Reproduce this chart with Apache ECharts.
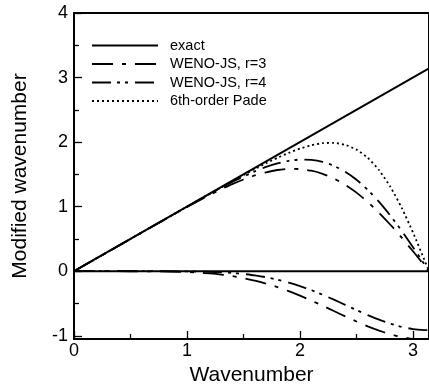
<!DOCTYPE html>
<html>
<head>
<meta charset="utf-8">
<script src="https://cdn.jsdelivr.net/npm/echarts@6/dist/echarts.min.js"></script>
<style>
  html, body { margin: 0; padding: 0; background: #fff; }
  #chart { width: 429px; height: 391px; }
</style>
</head>
<body>
<div id="chart"></div>
<script>
// Modified wavenumber of the linear WENO-JS schemes and the 6th-order compact Pade scheme
const wavenumber = [0, 0.25, 0.5, 0.75, 1.0, 1.1, 1.2, 1.3, 1.4, 1.5, 1.6, 1.7, 1.8, 1.9, 2.0,
  2.1, 2.2, 2.3, 2.4, 2.5, 2.6, 2.7, 2.8, 2.9, 3.0, 3.1, 3.1416];

// real parts (dispersion)
const wenoR3Real = [0, 0.25, 0.5, 0.749, 0.994, 1.089, 1.181, 1.268, 1.349, 1.421, 1.484, 1.533, 1.568,
  1.585, 1.582, 1.557, 1.509, 1.436, 1.339, 1.217, 1.072, 0.905, 0.720, 0.520, 0.309, 0.091, 0];
const wenoR4Real = [0, 0.25, 0.5, 0.75, 0.999, 1.097, 1.195, 1.289, 1.381, 1.467, 1.546, 1.615, 1.671,
  1.710, 1.729, 1.725, 1.694, 1.633, 1.541, 1.417, 1.260, 1.074, 0.861, 0.625, 0.373, 0.110, 0];
const padeReal = [0, 0.25, 0.5, 0.75, 1.000, 1.099, 1.198, 1.296, 1.394, 1.489, 1.583, 1.672, 1.756,
  1.833, 1.899, 1.951, 1.983, 1.988, 1.958, 1.884, 1.756, 1.565, 1.307, 0.982, 0.600, 0.180, 0];

// imaginary parts (dissipation)
const wenoR3Imag = [0, 0, -0.0002, -0.003, -0.013, -0.022, -0.035, -0.052, -0.076, -0.107, -0.145,
  -0.192, -0.246, -0.309, -0.379, -0.454, -0.534, -0.617, -0.699, -0.779, -0.854, -0.920, -0.977,
  -1.021, -1.051, -1.065, -1.067];
const wenoR4Imag = [0, 0, 0, 0, -0.003, -0.005, -0.009, -0.016, -0.027, -0.043, -0.064, -0.093,
  -0.130, -0.175, -0.230, -0.293, -0.364, -0.441, -0.521, -0.601, -0.679, -0.751, -0.813, -0.862,
  -0.896, -0.913, -0.914];

// exact relation: real part equals the wavenumber, imaginary part is zero
const exactX = [0, 3.1416];
const exactReal = [0, 3.1416];
const exactImag = [0, 0];

const xMajor = [0, 1, 2, 3];
const xMinor = [0.5, 1.5, 2.5];
const yMajor = [-1, 0, 1, 2, 3, 4];
const yMinor = [-0.5, 0.5, 1.5, 2.5, 3.5];

const FONT = '"Liberation Sans", Arial, Helvetica, sans-serif';
const pairs = (xs, ys) => xs.map((x, i) => [x, ys[i]]);

const X_MIN = 0, X_MAX = 3.1416, Y_MIN = -1.05, Y_MAX = 4;

function lineSeries(name, xs, ys, width, type) {
  return {
    name: name,
    type: 'line',
    data: pairs(xs, ys),
    symbol: 'none',
    smooth: 0.2,
    clip: true,
    lineStyle: { color: '#000', width: width, type: type, cap: 'butt' },
    itemStyle: { color: '#000' },
    emphasis: { disabled: true }
  };
}

const dashR3 = [21, 9, 4, 9];
const dashR4 = [19, 6, 3, 5, 3, 7];
const dotPade = [2, 3];

const chart = echarts.init(document.getElementById('chart'), null, { renderer: 'canvas' });

chart.setOption({
  animation: false,
  backgroundColor: '#fff',
  textStyle: { fontFamily: FONT },
  grid: {
    left: 74, right: -6, top: 13, bottom: 51,
    show: true, borderColor: '#000', borderWidth: 2, backgroundColor: 'transparent'
  },
  legend: {
    orient: 'vertical',
    left: 91, top: 38,
    padding: 0,
    itemWidth: 66, itemHeight: 14, itemGap: 3.5,
    selectedMode: false,
    // line-only legend keys: the marker dot is made fully transparent
    itemStyle: { opacity: 0 },
    data: ['exact', 'WENO-JS, r=3', 'WENO-JS, r=4', '6th-order Pade'],
    textStyle: { fontFamily: FONT, fontSize: 14.5, color: '#000', padding: [0, 0, 0, 7] }
  },
  xAxis: [
    {
      type: 'value', min: X_MIN, max: X_MAX,
      name: 'Wavenumber', nameLocation: 'middle', nameGap: 26,
      nameTextStyle: { fontFamily: FONT, fontSize: 21, color: '#000' },
      axisLine: { show: true, onZero: false, lineStyle: { color: '#000', width: 2 } },
      axisTick: { show: true, inside: true, length: 8, customValues: xMajor, lineStyle: { color: '#000', width: 1.3 } },
      axisLabel: { show: true, customValues: xMajor, margin: 3, fontFamily: FONT, fontSize: 18, color: '#000' },
      splitLine: { show: false }
    },
    {
      type: 'value', min: X_MIN, max: X_MAX, position: 'bottom',
      axisLine: { show: false, onZero: false },
      axisTick: { show: true, inside: true, length: 5, customValues: xMinor, lineStyle: { color: '#000', width: 1.3 } },
      axisLabel: { show: false },
      splitLine: { show: false }
    }
  ],
  yAxis: [
    {
      type: 'value', min: Y_MIN, max: Y_MAX,
      name: 'Modified wavenumber', nameLocation: 'middle', nameGap: 43, nameRotate: 90,
      nameTextStyle: { fontFamily: FONT, fontSize: 21, color: '#000' },
      axisLine: { show: true, onZero: false, lineStyle: { color: '#000', width: 2 } },
      axisTick: { show: true, inside: true, length: 8, customValues: yMajor, lineStyle: { color: '#000', width: 1.3 } },
      axisLabel: { show: true, customValues: yMajor, margin: 6, fontFamily: FONT, fontSize: 18, color: '#000' },
      splitLine: { show: false }
    },
    {
      type: 'value', min: Y_MIN, max: Y_MAX, position: 'left',
      axisLine: { show: false, onZero: false },
      axisTick: { show: true, inside: true, length: 5, customValues: yMinor, lineStyle: { color: '#000', width: 1.3 } },
      axisLabel: { show: false },
      splitLine: { show: false }
    }
  ],
  series: [
    lineSeries('exact', exactX, exactReal, 2, 'solid'),
    lineSeries('exact', exactX, exactImag, 2, 'solid'),
    lineSeries('WENO-JS, r=3', wavenumber, wenoR3Real, 1.8, dashR3),
    lineSeries('WENO-JS, r=3', wavenumber, wenoR3Imag, 1.8, dashR3),
    lineSeries('WENO-JS, r=4', wavenumber, wenoR4Real, 1.8, dashR4),
    lineSeries('WENO-JS, r=4', wavenumber, wenoR4Imag, 1.8, dashR4),
    lineSeries('6th-order Pade', wavenumber, padeReal, 1.8, dotPade)
  ]
});
</script>
</body>
</html>
